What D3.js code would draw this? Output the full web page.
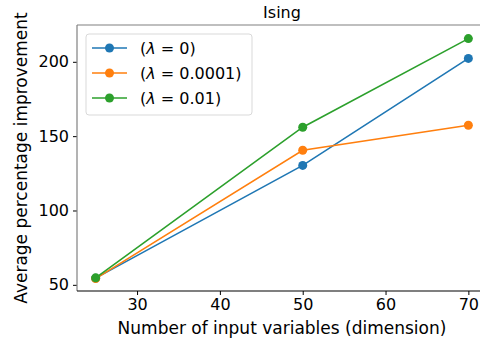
<!DOCTYPE html>
<html>
<head>
<meta charset="utf-8">
<script src="https://cdn.jsdelivr.net/npm/d3@7"></script>
<style>
  body { margin: 0; background: #fff; }
  svg { font-family: "DejaVu Sans", sans-serif; }
</style>
</head>
<body>
<svg id="chart" width="480" height="343"></svg>
<script>
// data
var dims = [25, 50, 70];
var lambda0 = [54.5, 130.3, 202.3];
var lambda00001 = [54.2, 140.5, 157.3];
var lambda001 = [54.7, 156.0, 215.6];
var lambdaValues = ["0", "0.0001", "0.01"];
var colors = ["#1f77b4", "#ff7f0e", "#2ca02c"];
var xTicks = [30, 40, 50, 60, 70];
var yTicks = [50, 100, 150, 200];

var series = [lambda0, lambda00001, lambda001];

var svg = d3.select("#chart");
var mLeft = 77, mRight = 487, mTop = 25, mBottom = 291;

var x = d3.scaleLinear().domain([22.75, 72.25]).range([mLeft, mRight]);
var y = d3.scaleLinear().domain([45.85, 224.75]).range([mBottom, mTop]);

// axes
var xAxis = svg.append("g")
  .attr("transform", "translate(0," + mBottom + ")")
  .call(d3.axisBottom(x).tickValues(xTicks).tickSize(4).tickPadding(4).tickSizeOuter(0));
xAxis.select(".domain").remove();
xAxis.attr("font-size", null).attr("font-family", null);
xAxis.selectAll("text").style("font-size", "16px").attr("fill", "#000");

var yAxis = svg.append("g")
  .attr("transform", "translate(" + mLeft + ",0)")
  .call(d3.axisLeft(y).tickValues(yTicks).tickSize(4).tickPadding(4).tickSizeOuter(0));
yAxis.select(".domain").remove();
yAxis.attr("font-size", null).attr("font-family", null);
yAxis.selectAll("text").style("font-size", "16px").attr("fill", "#000");

// spines
svg.append("line").attr("x1", mLeft).attr("x2", mLeft).attr("y1", mTop).attr("y2", mBottom)
  .attr("stroke", "#808080").attr("stroke-width", 1.2);
svg.append("line").attr("x1", mLeft).attr("x2", mRight).attr("y1", mTop).attr("y2", mTop)
  .attr("stroke", "#808080").attr("stroke-width", 1.2);
svg.append("line").attr("x1", mLeft).attr("x2", mRight).attr("y1", mBottom).attr("y2", mBottom)
  .attr("stroke", "#000").attr("stroke-width", 1.2);

// lines + markers
var line = d3.line().x(function (d, i) { return x(dims[i]); }).y(function (d) { return y(d); });
series.forEach(function (s, k) {
  svg.append("path").datum(s)
    .attr("d", line)
    .attr("fill", "none")
    .attr("stroke", colors[k])
    .attr("stroke-width", 1.6);
  svg.selectAll(".m" + k).data(s).enter().append("circle")
    .attr("cx", function (d, i) { return x(dims[i]); })
    .attr("cy", function (d) { return y(d); })
    .attr("r", 4.5)
    .attr("fill", colors[k]);
});

// title and labels
svg.append("text").attr("x", (mLeft + mRight) / 2).attr("y", 18)
  .attr("text-anchor", "middle").style("font-size", "16px").text("Ising");
svg.append("text").attr("x", (mLeft + mRight) / 2).attr("y", 334)
  .attr("text-anchor", "middle").style("font-size", "17px").text("Number of input variables (dimension)");
svg.append("text")
  .attr("transform", "translate(27," + ((mTop + mBottom) / 2) + ") rotate(-90)")
  .attr("text-anchor", "middle").style("font-size", "17px").text("Average percentage improvement");

// legend
var lg = svg.append("g");
lg.append("rect").attr("x", 86).attr("y", 34).attr("width", 166).attr("height", 81)
  .attr("rx", 3).attr("fill", "#fff").attr("fill-opacity", 0.8)
  .attr("stroke", "#d9d9d9");
lambdaValues.forEach(function (v, k) {
  var cy = 48 + k * 25;
  lg.append("line").attr("x1", 92).attr("x2", 127).attr("y1", cy).attr("y2", cy)
    .attr("stroke", colors[k]).attr("stroke-width", 1.6);
  lg.append("circle").attr("cx", 109.5).attr("cy", cy).attr("r", 4.5).attr("fill", colors[k]);
  var t = lg.append("text").attr("x", 140).attr("y", cy + 6).style("font-size", "16px");
  t.append("tspan").text("(");
  t.append("tspan").style("font-style", "italic").text("\u03bb");
  t.append("tspan").text(" = " + v + ")");
});
</script>
</body>
</html>
